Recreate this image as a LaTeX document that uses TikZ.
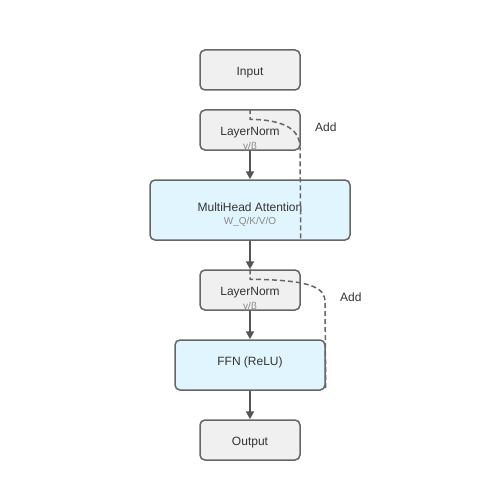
\documentclass[tikz,border=0pt]{standalone}
\usepackage{fontspec}
\setmainfont{Liberation Sans}
\usetikzlibrary{arrows.meta,calc}
\definecolor{boxgray}{HTML}{F0F0F0}
\definecolor{boxblue}{HTML}{E1F5FE}
\definecolor{edge}{HTML}{666666}
\definecolor{txt}{HTML}{333333}
\definecolor{subtxt}{HTML}{888888}
\definecolor{arr}{HTML}{555555}
\tikzset{
  graybox/.style={draw=edge, line width=1.5pt, fill=boxgray, rounded corners=5pt, inner sep=0pt},
  bluebox/.style={draw=edge, line width=1.5pt, fill=boxblue, rounded corners=5pt, inner sep=0pt},
  lbl/.style={text=txt, font=\fontsize{12}{14}\selectfont, inner sep=0pt},
  sublbl/.style={text=subtxt, font=\fontsize{10}{12}\selectfont, inner sep=0pt},
  flow/.style={draw=arr, line width=2pt, -{Triangle[length=8pt,width=8pt]}},
  resid/.style={draw=edge, line width=1.5pt, dash pattern=on 5pt off 3pt}
}
\begin{document}
\begin{tikzpicture}[x=1pt,y=-1pt]
\useasboundingbox (0,0) rectangle (500,500);
\node[graybox, minimum width=100pt, minimum height=40pt] (input) at (250,70) {};
\node[graybox, minimum width=100pt, minimum height=40pt] (ln1) at (250,130) {};
\node[bluebox, minimum width=200pt, minimum height=60pt] (mha) at (250,210) {};
\node[graybox, minimum width=100pt, minimum height=40pt] (ln2) at (250,290) {};
\node[bluebox, minimum width=150pt, minimum height=50pt] (ffn) at (250,365) {};
\node[graybox, minimum width=100pt, minimum height=40pt] (output) at (250,440) {};

\node[lbl] (tinput) at (250,72.5) {Input};
\node[lbl] (tln1) at (250,132.5) {LayerNorm};
\node[sublbl] (sln1) at (250,147) {γ/β};
\node[lbl] (tmha) at (250,207.5) {MultiHead Attention};
\node[sublbl] (smha) at (250,222) {W\_Q/K/V/O};
\node[lbl] (tln2) at (250,292.5) {LayerNorm};
\node[sublbl] (sln2) at (250,307) {γ/β};
\node[lbl] (tffn) at (250,362.5) {FFN (ReLU)};
\node[lbl] (toutput) at (250,442.5) {Output};
\node[lbl, anchor=west] (add1) at (315,127.5) {Add};
\node[lbl, anchor=west] (add2) at (340,297.5) {Add};

\draw[flow] (ln1.south) -- (mha.north);
\draw[flow] (mha.south) -- (ln2.north);
\draw[flow] (ln2.south) -- (ffn.north);
\draw[flow] (ffn.south) -- (output.north);

\draw[resid] (ln1.north) -- ++(0,10) .. controls (286,120) and (300,130) .. (300,148) -- (ln1.east |- mha.south);
\draw[resid] (ln2.north) -- ++(0,10) .. controls (310,280) and (325,287) .. (325,302) -- (ffn.east |- ffn.south);
\end{tikzpicture}
\end{document}
